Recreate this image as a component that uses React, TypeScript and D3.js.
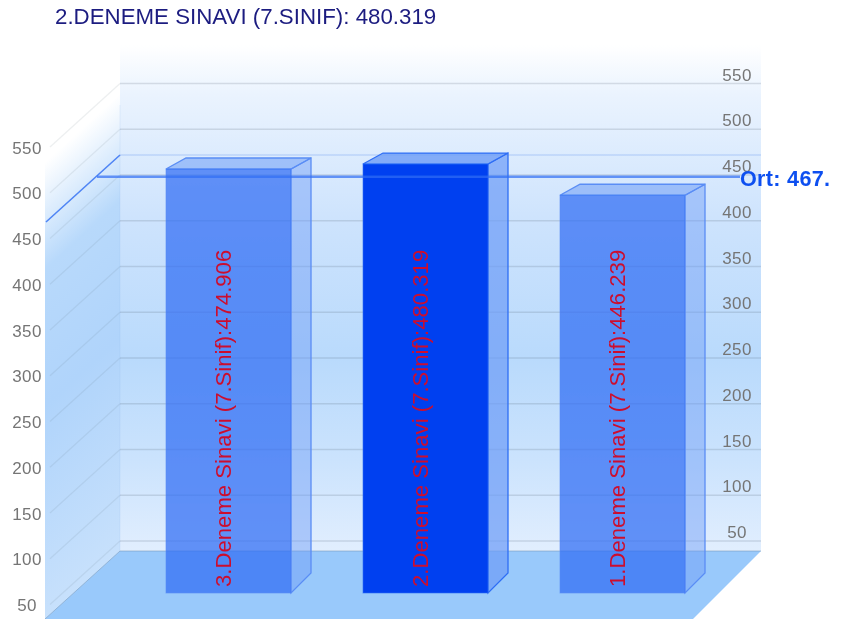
import React from "react";
import * as d3 from "d3";

const titleText = "2.DENEME SINAVI (7.SINIF): 480.319";
const categories = ["3.Deneme Sinavi (7.Sinif)", "2.Deneme Sinavi (7.Sinif)", "1.Deneme Sinavi (7.Sinif)"];
const values = [474.906, 480.319, 446.239];
const highlighted = [false, true, false];
const ticks = [50, 100, 150, 200, 250, 300, 350, 400, 450, 500, 550];
const averageValue = 466.5;
const averageLabel = "Ort: 467.";

const FONT = "'Liberation Sans', Arial, sans-serif";
const W = 842, H = 619;
const wall = { left: 120, right: 761, top: 45, floor: 551 };
const floorDx = -75, floorDy = 68;
const gridDx = -70, gridDy = 63.5;
const barDx = 20, barDy = -11;
const barBase = 593;

const yBack = d3.scaleLinear().domain([50, 550]).range([541, 83.5]);
const yFront = d3.scaleLinear().domain([474.906, 480.319 - 500]).range([169, 169 + (474.906 - 480.319 + 500) * 0.915]);
const x = d3.scaleBand<string>().domain(categories).range([166, 685]).paddingInner(72 / 197).paddingOuter(0);
const poly = (p: number[][]) => p.map((q) => q.join(",")).join(" ");

export default function App() {
  const avgY = yFront(averageValue);
  return (
    <svg width={W} height={H} style={{ position: "fixed", left: 0, top: 0, display: "block" }}>
      <defs>
        <linearGradient id="backG" gradientUnits="userSpaceOnUse" x1="0" y1={wall.top} x2="0" y2={wall.floor}>
          <stop offset="0" stopColor="#ffffff" />
          <stop offset="0.1" stopColor="#eaf3fe" />
          <stop offset="0.35" stopColor="#cde3fd" />
          <stop offset="0.62" stopColor="#b9dafc" />
          <stop offset="0.82" stopColor="#cbe3fd" />
          <stop offset="1" stopColor="#e1eefe" />
        </linearGradient>
        <linearGradient id="sideG" gradientUnits="userSpaceOnUse" x1="70" y1="115" x2="313" y2="381">
          <stop offset="0.05" stopColor="#ffffff" />
          <stop offset="0.27" stopColor="#b8d9fb" />
          <stop offset="0.55" stopColor="#b0d4fb" />
          <stop offset="1" stopColor="#c8e1fc" />
        </linearGradient>
        <filter id="soft" x="0" y="0" width="100%" height="100%">
          <feGaussianBlur stdDeviation="0.4" />
        </filter>
      </defs>
      <g filter="url(#soft)">
        <polygon
          points={poly([[wall.left, wall.top], [wall.left, wall.floor], [wall.left + floorDx, wall.floor + floorDy], [wall.left + floorDx, wall.top + floorDy]])}
          fill="url(#sideG)"
        />
        <rect x={wall.left} y={wall.top} width={wall.right - wall.left} height={wall.floor - wall.top} fill="url(#backG)" />
        <polygon
          points={poly([[wall.left, wall.floor], [wall.right, wall.floor], [wall.right + floorDx + 7, H], [wall.left + floorDx, H]])}
          fill="#99c9fb"
        />
        <line x1={wall.left} y1={wall.floor} x2={wall.left + floorDx} y2={wall.floor + floorDy} stroke="#7fa3c8" strokeOpacity={0.7} />
        <line x1={wall.left} y1={wall.floor} x2={wall.right} y2={wall.floor} stroke="#6f8fb0" strokeOpacity={0.5} />
        <line x1={wall.left} y1={wall.top + 60} x2={wall.left} y2={wall.floor} stroke="#8fb8e8" strokeOpacity={0.15} />

        {ticks.map((t) => (
          <g key={t}>
            <line x1={wall.left} x2={wall.right} y1={yBack(t)} y2={yBack(t)} stroke="#505f6f" strokeOpacity={0.18} strokeWidth={1.4} />
            <line x1={wall.left} x2={wall.left + gridDx} y1={yBack(t)} y2={yBack(t) + gridDy} stroke="#505f6f" strokeOpacity={0.1} strokeWidth={1.3} />
            <text x={737} y={yBack(t) - 9 + 6} textAnchor="middle" fontFamily={FONT} fontSize={17} letterSpacing={0.4} fill="#757575">{t}</text>
            <text x={27} y={yBack(t) + 64 + 6} textAnchor="middle" fontFamily={FONT} fontSize={17} letterSpacing={0.4} fill="#757575">{t}</text>
          </g>
        ))}

        {/* average line on the back wall */}
        <line x1={wall.left} x2={wall.right} y1={155} y2={155} stroke="#5c93f5" strokeOpacity={0.25} strokeWidth={1.3} />

        {categories.map((c, i) => {
          const bx = x(c)!;
          const bw = x.bandwidth();
          const top = yFront(values[i]);
          const on = highlighted[i];
          const stroke = on ? "#2f6ef5" : "#5a8df5";
          return (
            <g key={c}>
              <polygon
                points={poly([[bx + bw, top], [bx + bw + barDx, top + barDy], [bx + bw + barDx, barBase + barDy * 1.82], [bx + bw, barBase]])}
                fill="#6d9cf6" fillOpacity={on ? 0.72 : 0.45} stroke={stroke} strokeWidth={1.3}
              />
              <polygon
                points={poly([[bx, top], [bx + barDx, top + barDy], [bx + bw + barDx, top + barDy], [bx + bw, top]])}
                fill="#6d9cf6" fillOpacity={on ? 0.8 : 0.55} stroke={stroke} strokeWidth={1.3}
              />
              <rect x={bx} y={top} width={bw} height={barBase - top}
                fill={on ? "#0040f0" : "#2f6cf4"} fillOpacity={on ? 1 : 0.72} stroke={stroke} strokeOpacity={0.6} />
              <text
                transform={`translate(${bx + bw / 2 + 2.5},${barBase - 6}) rotate(-90)`}
                fontFamily={FONT} fontSize={22.15} fill="#cc0f2f"
              >{`${c}:${values[i]}`}</text>
            </g>
          );
        })}

        {/* average line */}
        <line x1={46} y1={222} x2={wall.left} y2={155} stroke="#4f85f5" strokeWidth={1.6} />
        <line x1={97} x2={740} y1={avgY} y2={avgY} stroke="#2f6cf4" strokeOpacity={0.7} strokeWidth={2.6} />
        <text x={740} y={186} fontFamily={FONT} fontSize={21.6} fontWeight="bold" letterSpacing={0.3} fill="#0f50f0">{averageLabel}</text>

        <text x={55} y={24} fontFamily={FONT} fontSize={22.3} fill="#1c1c80">{titleText}</text>
      </g>
    </svg>
  );
}
